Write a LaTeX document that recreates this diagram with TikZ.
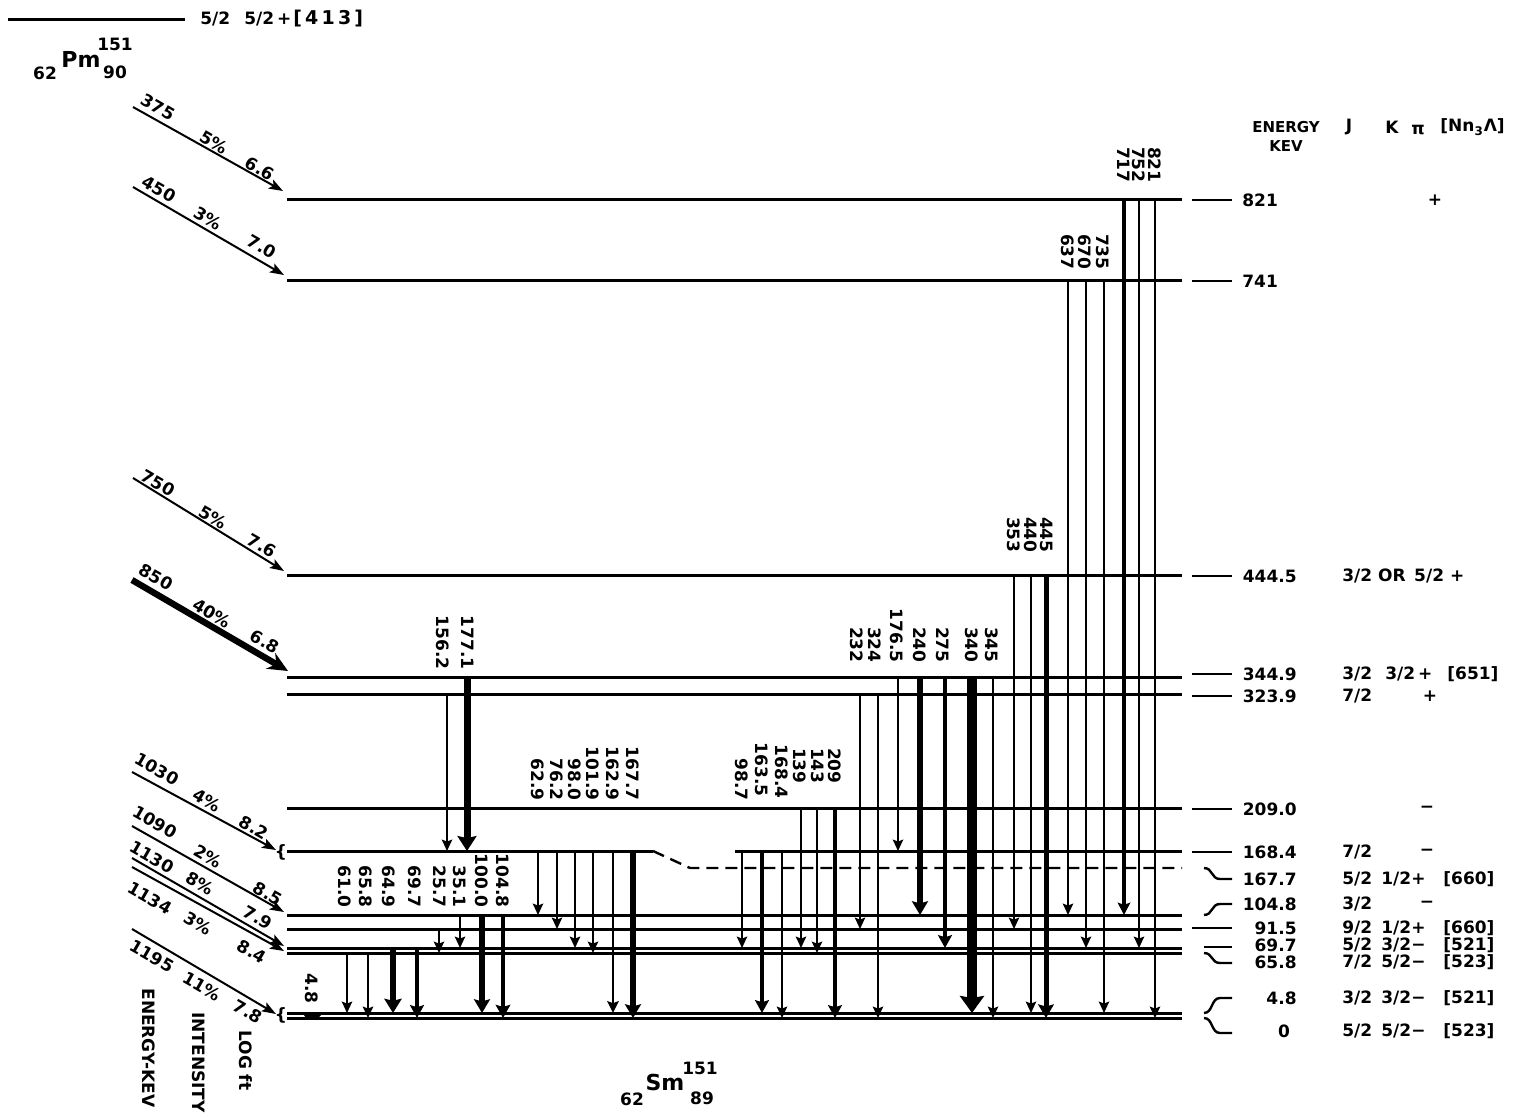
\documentclass[tikz,border=0pt]{standalone}
\usepackage{fontspec}
\setmainfont{DejaVu Sans}
\usetikzlibrary{arrows.meta}
\tikzset{
    every node/.style={font=\fontsize{8.5}{10}\selectfont\bfseries, inner sep=0pt},
    lev/.style={line width=1.5pt},
    lead/.style={line width=1.2pt},
    gam/.style={
        line width=1pt,
        -{Stealth[length=5pt 0.7, width=3.5pt 1.7, inset=1pt]}
    },
    glab/.style={rotate=-90, anchor=east},
    beta/.style={
        line width=1pt,
        -{Stealth[length=7pt, width=5pt, inset=1.5pt]}
    },
    blab/.style={rotate=-30},
    bignum/.style={font=\fontsize{11}{12}\selectfont\bfseries},
    hdr/.style={font=\fontsize{7.5}{9}\selectfont\bfseries},
}

\begin{document}
\begin{tikzpicture}[x=0.5pt, y=-0.5pt]
    \useasboundingbox (0,0) rectangle (1533,1118);

    % Parent state 62Pm151
    \draw[lev] (8,20) -- (185,20);
    \node[anchor=west] (pmJ) at (200,19) {5/2};
    \node[anchor=west] (pmK) at (244,19) {5/2\,+};
    \node[anchor=west, font=\fontsize{9.5}{11}\selectfont\bfseries] (pmN) at (293,19) {[\,4\,1\,3\,]};
    \node (pmZ) at (45,73) {62};
    \node[bignum] (pm) at (81,59) {Pm};
    \node (pmA) at (115,44) {151};
    \node (pmB) at (115,72) {90};

    % Levels of 62Sm151
    \draw[lev] (287,200) -- (1182,200);
    \draw[lev] (287,281) -- (1182,281);
    \draw[lev] (287,575) -- (1182,575);
    \draw[lev] (287,677) -- (1182,677);
    \draw[lev] (287,694) -- (1182,694);
    \draw[lev] (287,808) -- (1182,808);
    \draw[lev] (287,851) -- (653,851);
    \draw[lev, line width=1.2pt, dash pattern=on 6pt off 3.5pt] (653,851) -- (690,868) -- (1182,868);
    \draw[lev] (735,851) -- (1182,851);
    \draw[lev] (287,915) -- (1182,915);
    \draw[lev] (287,929) -- (1182,929);
    \draw[lev] (287,948) -- (1182,948);
    \draw[lev] (287,953) -- (1182,953);
    \draw[lev] (287,1013) -- (1182,1013);
    \draw[lev] (287,1018) -- (1182,1018);
    \node (br1) at (281,852) {\{};
    \node (br2) at (281,1015) {\{};

    % Beta branches
    \draw[beta] (133,107) -- (283,191);
    \node[blab] (b1e) at (158,107) {375};
    \node[blab] (b1i) at (214,142) {5\%};
    \node[blab] (b1l) at (260,169) {6.6};
    \draw[beta] (133,187) -- (284,275);
    \node[blab] (b2e) at (159,189) {450};
    \node[blab] (b2i) at (208,218) {3\%};
    \node[blab] (b2l) at (262,247) {7.0};
    \draw[beta] (133,478) -- (284,571);
    \node[blab] (b3e) at (158,483) {750};
    \node[blab] (b3i) at (213,517) {5\%};
    \node[blab] (b3l) at (262,546) {7.6};
    \draw[beta, line width=3.2pt, -{Stealth[length=10pt, width=9pt]}] (132,580) -- (288,671);
    \node[blab] (b4e) at (156,577) {850};
    \node[blab] (b4i) at (212,613) {40\%};
    \node[blab] (b4l) at (265,642) {6.8};
    \draw[beta] (132,772) -- (276,850);
    \node[blab] (b5e) at (157,769) {1030};
    \node[blab] (b5i) at (207,800) {4\%};
    \node[blab] (b5l) at (254,828) {8.2};
    \draw[beta] (132,826) -- (284,912);
    \node[blab] (b6e) at (155,822) {1090};
    \node[blab] (b6i) at (208,856) {2\%};
    \node[blab] (b6l) at (268,894) {8.5};
    \draw[beta] (132,858) -- (284,946);
    \node[blab] (b7e) at (152,857) {1130};
    \node[blab] (b7i) at (200,883) {8\%};
    \node[blab] (b7l) at (258,918) {7.9};
    \draw[beta] (132,867) -- (284,951);
    \node[blab] (b8e) at (150,898) {1134};
    \node[blab] (b8i) at (198,923) {3\%};
    \node[blab] (b8l) at (252,952) {8.4};
    \draw[beta] (132,929) -- (276,1014);
    \node[blab] (b9e) at (152,956) {1195};
    \node[blab] (b9i) at (202,986) {11\%};
    \node[blab] (b9l) at (248,1012) {7.8};
    \node[rotate=-90, anchor=west] (tE) at (149,988) {ENERGY-KEV};
    \node[rotate=-90, anchor=west] (tI) at (199,1012) {INTENSITY};
    \node[rotate=-90, anchor=west] (tL) at (246,1030) {LOG ft};

    % Gamma rays from 821
    \draw[gam, line width=1.6pt] (1124,200) -- (1124,915); \node[glab] (g717) at (1124,183) {717};
    \draw[gam] (1139,200) -- (1139,948); \node[glab] (g752) at (1139,183) {752};
    \draw[gam] (1155,200) -- (1155,1018); \node[glab] (g821) at (1155,183) {821};
    % from 741
    \draw[gam] (1068,281) -- (1068,915); \node[glab] (g637) at (1068,270) {637};
    \draw[gam] (1086,281) -- (1086,948); \node[glab] (g670) at (1085,270) {670};
    \draw[gam] (1104,281) -- (1104,1013); \node[glab] (g735) at (1103,270) {735};
    % from 444.5
    \draw[gam] (1014,575) -- (1014,929); \node[glab] (g353) at (1014,553) {353};
    \draw[gam] (1031,575) -- (1031,1013); \node[glab] (g440) at (1031,553) {440};
    \draw[gam, line width=2.5pt] (1046,575) -- (1046,1018); \node[glab] (g445) at (1047,553) {445};
    % from 344.9 and 323.9
    \draw[gam] (860,694) -- (860,929); \node[glab] (g232) at (857,663) {232};
    \draw[gam] (878,694) -- (878,1018); \node[glab] (g324) at (875,663) {324};
    \draw[gam] (898,677) -- (898,851); \node[glab] (g1765) at (897,663) {176.5};
    \draw[gam, line width=2.6pt] (920,677) -- (920,915); \node[glab] (g240) at (920,663) {240};
    \draw[gam, line width=2pt] (945,677) -- (945,948); \node[glab] (g275) at (943,663) {275};
    \draw[gam, line width=5pt] (972,677) -- (972,1013); \node[glab] (g340) at (972,663) {340};
    \draw[gam] (993,677) -- (993,1018); \node[glab] (g345) at (992,663) {345};
    \draw[gam] (447,694) -- (447,851); \node[glab] (g1562) at (443,670) {156.2};
    \draw[gam, line width=3.5pt] (467,677) -- (467,851); \node[glab] (g1771) at (468,670) {177.1};
    % from 167.7
    \draw[gam] (538,851) -- (538,915); \node[glab] (g629) at (538,801) {62.9};
    \draw[gam] (557,851) -- (557,929); \node[glab] (g762) at (557,801) {76.2};
    \draw[gam] (575,851) -- (575,948); \node[glab] (g980) at (575,801) {98.0};
    \draw[gam] (593,851) -- (593,953); \node[glab] (g1019) at (593,801) {101.9};
    \draw[gam, line width=1.3pt] (613,851) -- (613,1013); \node[glab] (g1629) at (613,801) {162.9};
    \draw[gam, line width=2.6pt] (633,851) -- (633,1018); \node[glab] (g1677) at (633,801) {167.7};
    % from 168.4 and 209.0
    \draw[gam] (742,851) -- (742,948); \node[glab] (g987) at (742,801) {98.7};
    \draw[gam, line width=2pt] (762,851) -- (762,1013); \node[glab] (g1635) at (762,797) {163.5};
    \draw[gam] (782,851) -- (782,1018); \node[glab] (g1684) at (782,799) {168.4};
    \draw[gam] (801,808) -- (801,948); \node[glab] (g139) at (800,784) {139};
    \draw[gam] (817,808) -- (817,953); \node[glab] (g143) at (818,784) {143};
    \draw[gam, line width=2pt] (835,808) -- (835,1018); \node[glab] (g209) at (835,784) {209};
    % from the low-lying levels
    \draw[gam] (347,953) -- (347,1013); \node[glab] (g610) at (345,908) {61.0};
    \draw[gam] (368,953) -- (368,1018); \node[glab] (g658) at (366,908) {65.8};
    \draw[gam, line width=3pt] (393,948) -- (393,1013); \node[glab] (g649) at (389,908) {64.9};
    \draw[gam, line width=2pt] (417,948) -- (417,1018); \node[glab] (g697) at (415,908) {69.7};
    \draw[gam] (439,929) -- (439,953); \node[glab] (g257) at (440,908) {25.7};
    \draw[gam] (460,915) -- (460,948); \node[glab] (g351) at (460,908) {35.1};
    \draw[gam, line width=2.6pt] (482,915) -- (482,1013); \node[glab] (g1000) at (482,908) {100.0};
    \draw[gam, line width=2.2pt] (503,915) -- (503,1018); \node[glab] (g1048) at (503,908) {104.8};
    \fill (302,1012) -- (324,1012) -- (318,1018) -- (306,1018) -- cycle;
    \node[glab] (g48) at (312,1004) {4.8};

    % Leaders to the level energies
    \draw[lead] (1192,200) -- (1232,200);
    \draw[lead] (1192,281) -- (1232,281);
    \draw[lead] (1192,576) -- (1232,576);
    \draw[lead] (1192,674) -- (1232,674);
    \draw[lead] (1192,696) -- (1232,696);
    \draw[lead] (1192,809) -- (1232,809);
    \draw[lead] (1192,852) -- (1232,852);
    \draw[lead] (1204,868) .. controls (1213,868) and (1211,879) .. (1220,879) -- (1232,879);
    \draw[lead] (1204,915) .. controls (1213,915) and (1211,904) .. (1220,904) -- (1232,904);
    \draw[lead] (1192,928) -- (1232,928);
    \draw[lead] (1204,947) -- (1232,947);
    \draw[lead] (1204,953) .. controls (1213,953) and (1211,963) .. (1220,963) -- (1232,963);
    \draw[lead] (1204,1013) .. controls (1213,1013) and (1211,998) .. (1220,998) -- (1232,998);
    \draw[lead] (1204,1018) .. controls (1213,1018) and (1211,1033) .. (1220,1033) -- (1232,1033);

    % Column heads
    \node[hdr] (hE) at (1286,127) {ENERGY};
    \node[hdr] (hK) at (1286,146) {KEV};
    \node (hJ) at (1349,127) {J};
    \node (hKK) at (1392,127) {K};
    \node (hpi) at (1418,130) {π};
    \node[anchor=west] (hN) at (1440,127) {[Nn\textsubscript{3}Λ]};

    % Energies and quantum numbers
    \node[anchor=west] (e821) at (1242,200) {821};
    \node (p821) at (1435,200) {+};
    \node[anchor=west] (e741) at (1242,281) {741};
    \node[anchor=east] (e444) at (1297,576) {444.5};
    \node[anchor=west] (j444) at (1342,576) {3/2 OR\enspace 5/2 +};
    \node[anchor=east] (e344) at (1297,674) {344.9};
    \node[anchor=west] (j344) at (1342,674) {3/2};
    \node[anchor=west] (k344) at (1385,674) {3/2\,+};
    \node[anchor=west] (n344) at (1447,674) {[651]};
    \node[anchor=east] (e323) at (1297,696) {323.9};
    \node[anchor=west] (j323) at (1342,696) {7/2};
    \node (p323) at (1430,696) {+};
    \node[anchor=east] (e209) at (1297,809) {209.0};
    \node (p209) at (1427,809) {−};
    \node[anchor=east] (e1684) at (1297,852) {168.4};
    \node[anchor=west] (j1684) at (1342,852) {7/2};
    \node (p1684) at (1427,852) {−};
    \node[anchor=east] (e1677) at (1297,879) {167.7};
    \node[anchor=west] (j1677) at (1342,879) {5/2};
    \node[anchor=west] (k1677) at (1381,879) {1/2+};
    \node[anchor=west] (n1677) at (1443,879) {[660]};
    \node[anchor=east] (e1048) at (1297,904) {104.8};
    \node[anchor=west] (j1048) at (1342,904) {3/2};
    \node (p1048) at (1427,904) {−};
    \node[anchor=east] (e915) at (1297,928) {91.5};
    \node[anchor=west] (j915) at (1342,928) {9/2};
    \node[anchor=west] (k915) at (1381,928) {1/2+};
    \node[anchor=west] (n915) at (1443,928) {[660]};
    \node[anchor=east] (e697) at (1297,945) {69.7};
    \node[anchor=west] (j697) at (1342,945) {5/2};
    \node[anchor=west] (k697) at (1381,945) {3/2−};
    \node[anchor=west] (n697) at (1443,945) {[521]};
    \node[anchor=east] (e658) at (1297,962) {65.8};
    \node[anchor=west] (j658) at (1342,962) {7/2};
    \node[anchor=west] (k658) at (1381,962) {5/2−};
    \node[anchor=west] (n658) at (1443,962) {[523]};
    \node[anchor=east] (e48) at (1297,998) {4.8};
    \node[anchor=west] (j48) at (1342,998) {3/2};
    \node[anchor=west] (k48) at (1381,998) {3/2−};
    \node[anchor=west] (n48) at (1443,998) {[521]};
    \node (e0) at (1284,1031) {0};
    \node[anchor=west] (j0) at (1342,1031) {5/2};
    \node[anchor=west] (k0) at (1381,1031) {5/2−};
    \node[anchor=west] (n0) at (1443,1031) {[523]};

    % Daughter 62Sm151
    \node (smZ) at (632,1099) {62};
    \node[bignum] (sm) at (665,1082) {Sm};
    \node (smA) at (700,1068) {151};
    \node (smN) at (702,1098) {89};
\end{tikzpicture}
\end{document}
